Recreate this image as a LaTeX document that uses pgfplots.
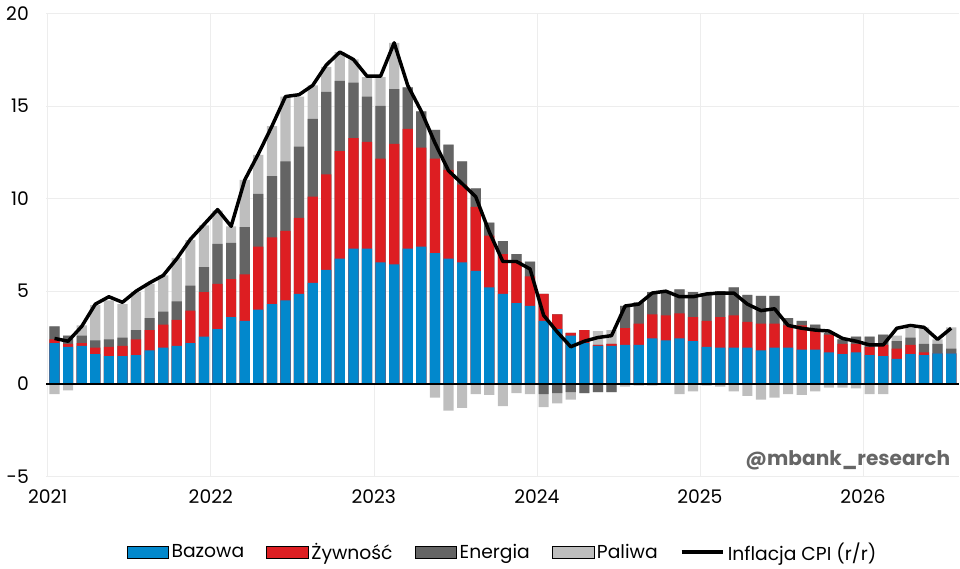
\documentclass[border=0pt]{standalone}
\usepackage{pgfplots}
\usepackage{pgfplotstable}
\pgfplotsset{compat=1.18}
\usepackage{fontspec}
\setmainfont{Poppins}
\definecolor{cblue}{RGB}{2,136,204}
\definecolor{cred}{RGB}{221,30,34}
\definecolor{cdark}{RGB}{100,100,100}
\definecolor{clight}{RGB}{190,190,190}
\pgfplotstableread{
i blue red dark light dneg lneg cpi
0 2.2 2.4 3.1 3.1 0 -0.55 2.45
1 2.0 2.15 2.6 2.6 0 -0.35 2.3
2 2.05 2.2 2.6 3.15 0 0 3.1
3 1.6 1.95 2.35 4.25 0 0 4.3
4 1.5 2.0 2.4 4.5 0 0 4.7
5 1.5 2.05 2.5 4.3 0 0 4.4
6 1.55 2.4 2.9 4.95 0 0 5.0
7 1.8 2.9 3.55 5.4 0 0 5.45
8 1.95 3.2 3.9 5.85 0 0 5.85
9 2.05 3.45 4.45 6.8 0 0 6.75
10 2.2 3.95 5.3 7.75 0 0 7.8
11 2.55 4.95 6.3 8.55 0 0 8.6
12 2.95 5.4 7.55 9.35 0 0 9.4
13 3.6 5.65 7.6 8.5 0 0 8.5
14 3.4 5.9 8.45 11.0 0 0 11.0
15 4.0 7.4 10.25 12.35 0 0 12.4
16 4.3 7.9 11.2 13.9 0 0 13.9
17 4.5 8.25 12.0 15.5 0 0 15.5
18 4.85 8.95 12.8 15.5 0 0 15.6
19 5.45 10.1 14.3 16.1 0 0 16.1
20 6.15 11.3 15.75 17.1 0 0 17.2
21 6.75 12.55 16.35 17.9 0 0 17.9
22 7.3 13.25 16.25 17.5 0 0 17.5
23 7.3 13.05 15.5 16.55 0 0 16.6
24 6.55 12.15 15.0 16.55 0 0 16.6
25 6.45 12.95 15.9 18.4 0 0 18.4
26 7.3 13.75 16.0 16.0 0 0 16.1
27 7.4 12.75 14.7 14.7 0 0 14.7
28 7.05 12.15 13.7 13.7 0 -0.75 13.0
29 6.75 11.55 12.9 12.9 0 -1.45 11.5
30 6.55 10.75 12.0 12.0 0 -1.3 10.8
31 6.1 9.55 10.55 10.55 0 -0.55 10.1
32 5.2 8.0 8.7 8.7 0 -0.6 8.2
33 4.85 7.0 7.7 7.7 0 -1.2 6.6
34 4.35 6.6 7.0 7.0 0 -0.5 6.6
35 4.2 5.8 6.6 6.6 0 -0.55 6.2
36 3.4 4.85 4.85 4.85 -0.55 -1.25 3.7
37 2.95 3.75 3.75 3.75 -0.5 -1.05 2.8
38 2.6 2.75 2.75 2.75 -0.45 -0.85 2.0
39 2.2 2.9 2.9 2.9 -0.5 -0.5 2.3
40 2.05 2.1 2.1 2.85 -0.45 -0.45 2.5
41 2.05 2.15 2.15 2.9 -0.45 -0.45 2.6
42 2.1 3.0 4.2 4.2 0 -0.15 4.2
43 2.1 3.25 4.4 4.4 0 -0.1 4.3
44 2.45 3.75 4.95 4.95 0 -0.1 4.9
45 2.35 3.7 4.95 4.95 0 0 5.0
46 2.45 3.8 5.1 5.1 0 -0.55 4.7
47 2.3 3.6 4.95 4.95 0 -0.4 4.7
48 2.0 3.4 4.8 4.8 0 -0.1 4.85
49 1.95 3.6 5.0 5.0 0 -0.15 4.9
50 1.95 3.7 5.2 5.2 0 -0.4 4.9
51 1.95 3.35 4.8 4.8 0 -0.65 4.3
52 1.8 3.25 4.75 4.75 0 -0.85 3.95
53 1.95 3.25 4.75 4.75 0 -0.75 4.05
54 1.95 3.15 3.55 3.55 0 -0.55 3.15
55 1.85 3.15 3.4 3.4 0 -0.6 3.0
56 1.85 2.95 3.2 3.2 0 -0.4 2.9
57 1.7 2.65 2.75 2.75 0 -0.2 2.85
58 1.6 2.15 2.4 2.4 0 -0.2 2.45
59 1.7 2.15 2.55 2.55 0 -0.25 2.3
60 1.55 2.0 2.55 2.55 0 -0.55 2.1
61 1.5 2.1 2.65 2.65 0 -0.55 2.1
62 1.35 1.9 2.3 2.6 0 0 3.0
63 1.6 2.1 2.5 3.0 0 0 3.15
64 1.55 1.7 2.15 3.05 0 0 3.05
65 1.65 1.65 2.15 2.4 0 0 2.4
66 1.65 1.65 1.9 3.05 0 0 3.0
}\data
\begin{document}
\fontsize{13.5}{16}\selectfont
\begin{tikzpicture}[x=1pt,y=1pt]
\begin{axis}[
  scale only axis, width=658pt, height=334pt,
  xmin=-0.6, xmax=66.6, ymin=-5, ymax=20,
  axis line style={draw=none},
  major tick length=0pt,
  xtick={-0.5,11.5,23.5,35.5,47.5,59.5},
  xticklabels={2021,2022,2023,2024,2025,2026},
  ytick={-5,0,5,10,15,20},
  /pgf/number format/assume math mode=true,
  tick label style={font=\fontsize{13.5}{16}\selectfont},
  xticklabel style={yshift=-5pt},
  yticklabel style={xshift=-8pt},
  grid=major, major grid style={draw=black!7},
  clip=false,
  legend columns=5,
  legend style={at={(0.5,-0.13)}, anchor=north, draw=none, font=\fontsize{13.5}{16}\selectfont,
    /tikz/every even column/.append style={column sep=14pt}},
  legend image code/.code={\fill[#1] (0pt,-4pt) rectangle (30pt,5pt);},
]
\addlegendimage{fill=cblue}\addlegendentry{Bazowa}
\addlegendimage{fill=cred}\addlegendentry{Żywność}
\addlegendimage{fill=cdark}\addlegendentry{Energia}
\addlegendimage{fill=clight}\addlegendentry{Paliwa}
\addlegendimage{legend image code/.code={\draw[black,line width=2.5pt] (0pt,0.5pt) -- (30pt,0.5pt);}}\addlegendentry{Inflacja CPI (r/r)}
\addplot[ybar, bar width=0.75, bar shift=0pt, fill=clight, draw=none, forget plot] table[x=i,y=light]{\data};
\addplot[ybar, bar width=0.75, bar shift=0pt, fill=cdark, draw=none, forget plot] table[x=i,y=dark]{\data};
\addplot[ybar, bar width=0.75, bar shift=0pt, fill=cred, draw=none, forget plot] table[x=i,y=red]{\data};
\addplot[ybar, bar width=0.75, bar shift=0pt, fill=cblue, draw=none, forget plot] table[x=i,y=blue]{\data};
\addplot[ybar, bar width=0.75, bar shift=0pt, fill=clight, draw=none, forget plot] table[x=i,y=lneg]{\data};
\addplot[ybar, bar width=0.75, bar shift=0pt, fill=cdark, draw=none, forget plot] table[x=i,y=dneg]{\data};
\draw[black, line width=1pt] (axis cs:-0.6,0) -- (axis cs:66.6,0);
\addplot[black, line width=2.5pt, line join=round, no marks, forget plot] table[x=i,y=cpi]{\data};
\node[anchor=east, font=\bfseries\fontsize{14.5}{16}\selectfont, text=black!60] at (axis cs:66.4,-4.1) {@mbank\_research};
\end{axis}
\end{tikzpicture}
\end{document}
